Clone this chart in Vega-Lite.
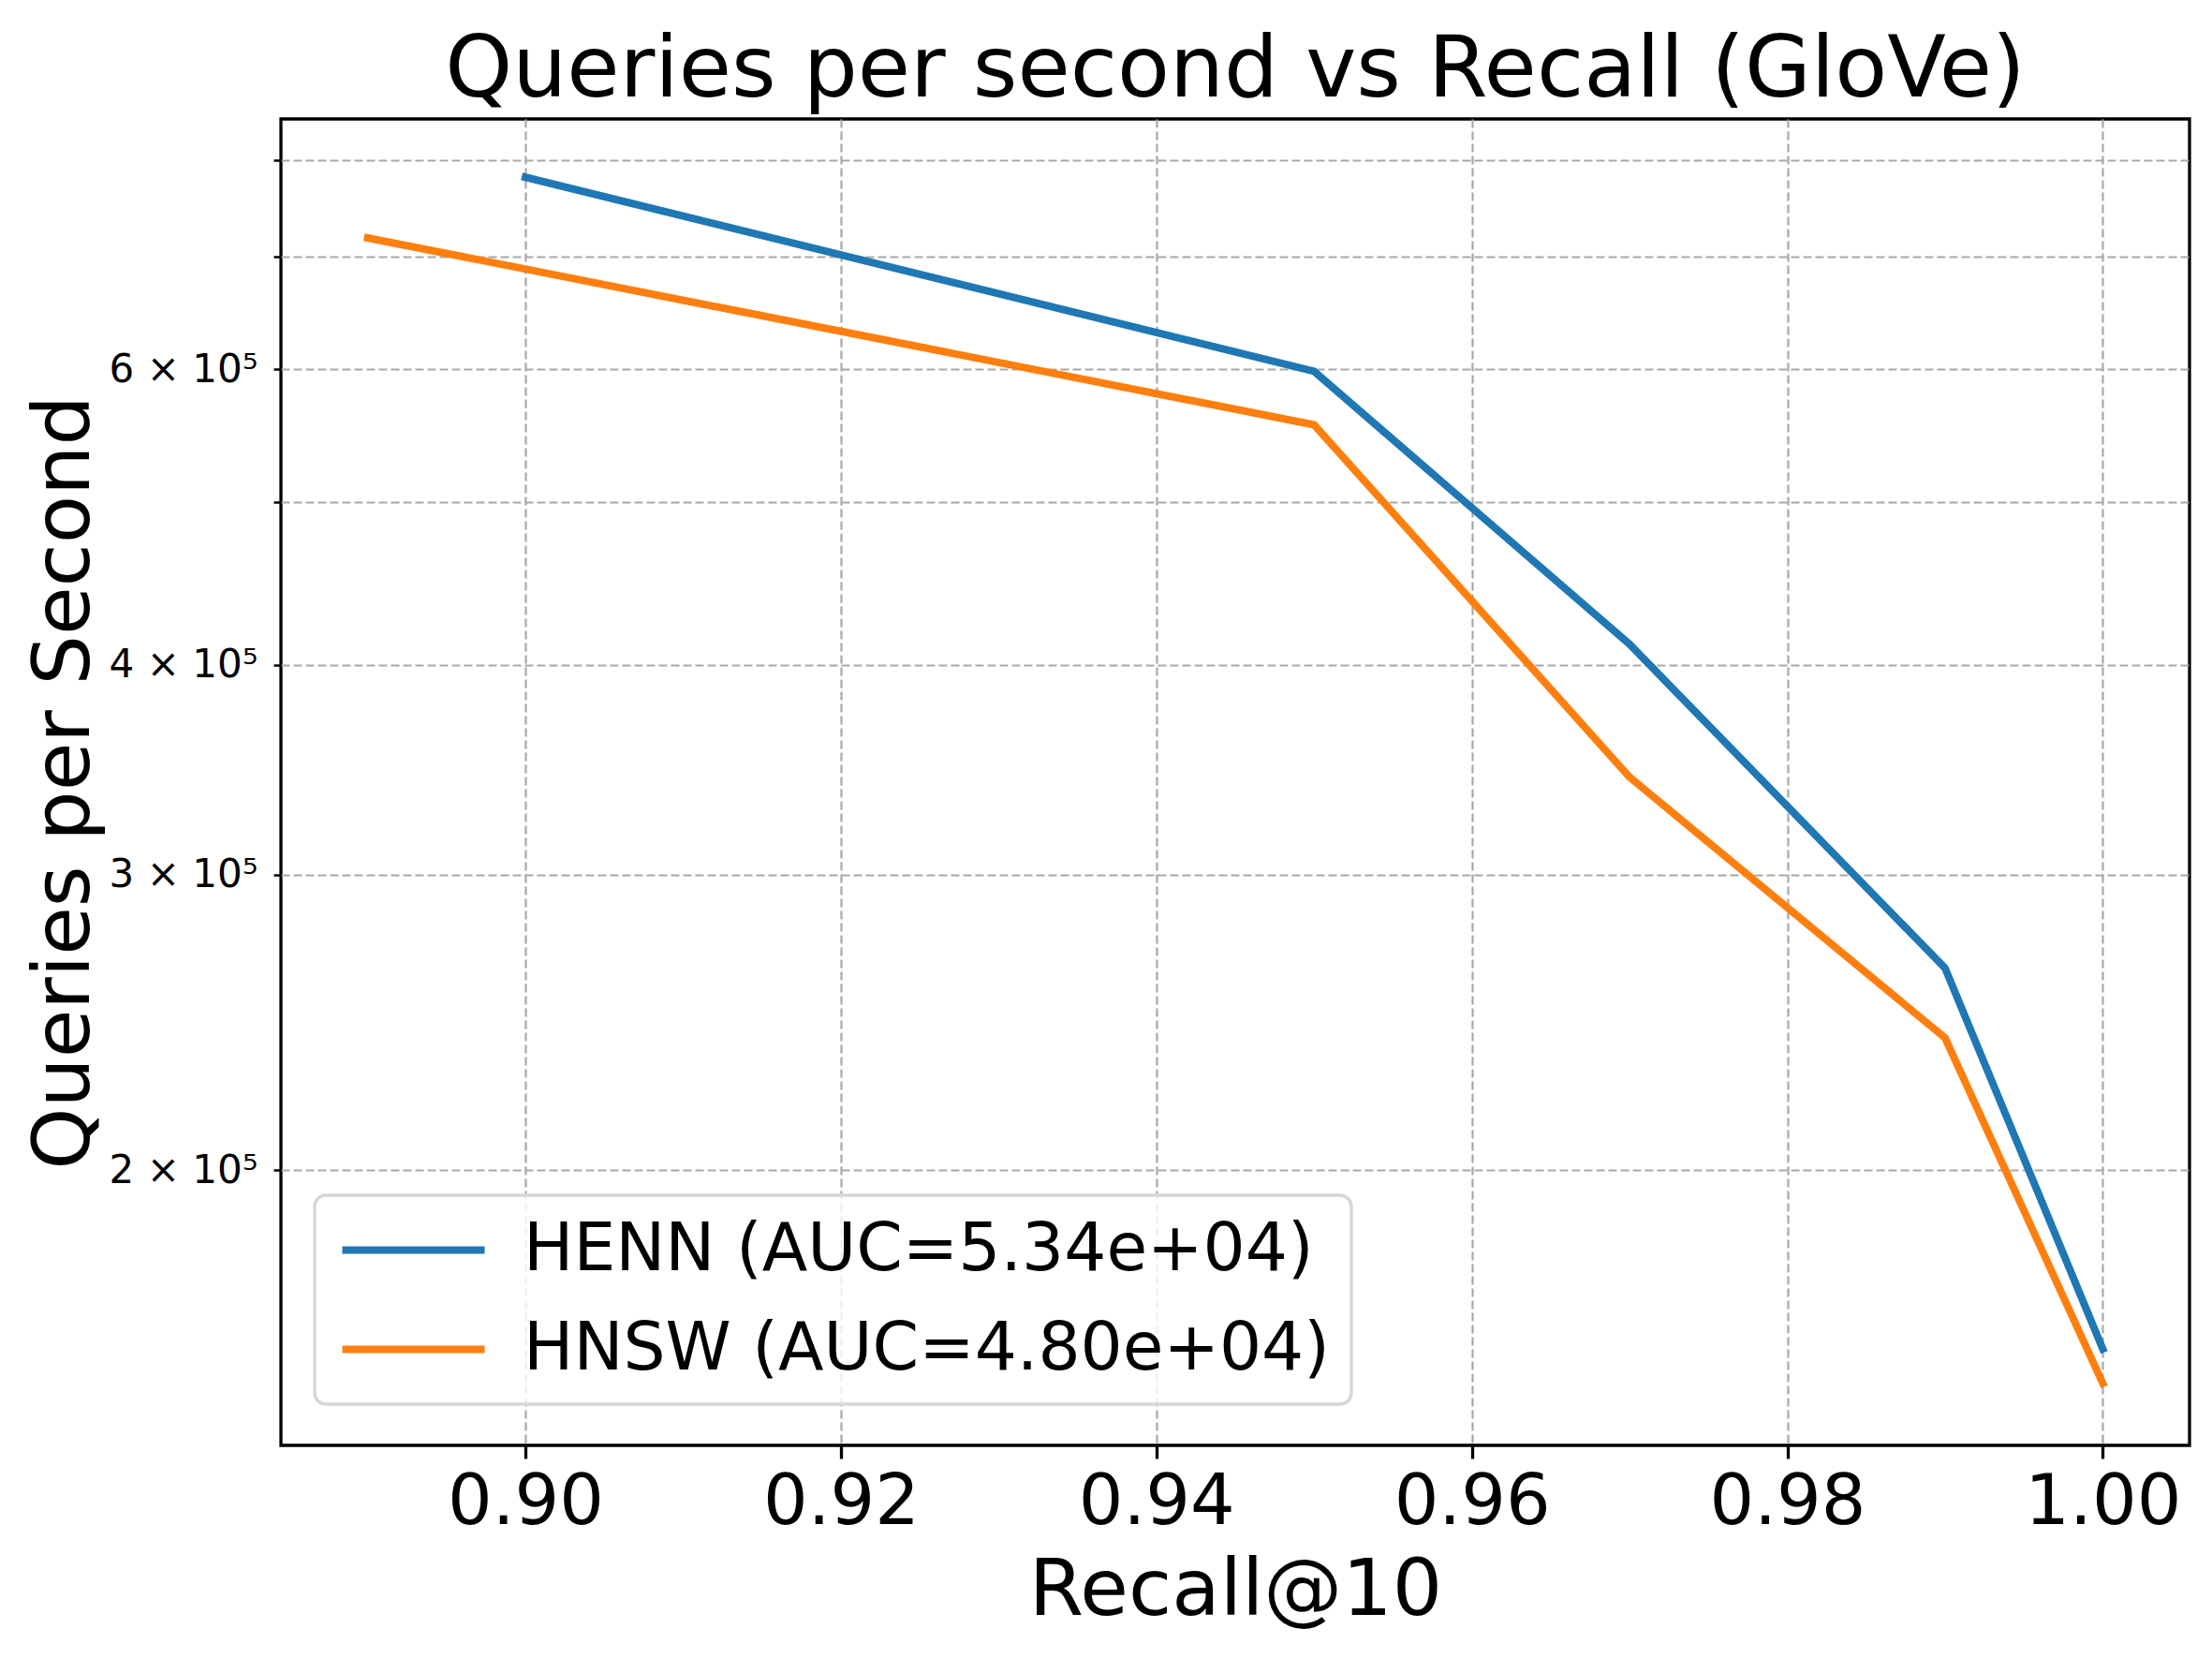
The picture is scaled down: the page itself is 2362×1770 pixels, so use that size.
{
  "$schema": "https://vega.github.io/schema/vega-lite/v6.json",
  "width": 2038,
  "height": 1416,
  "autosize": {"type": "none"},
  "padding": {"left": 300, "top": 127, "right": 24, "bottom": 227},
  "background": "white",
  "title": {
    "text": "Queries per second vs Recall (GloVe)",
    "font": "DejaVu Sans",
    "fontSize": 91.5,
    "fontWeight": "normal",
    "color": "black",
    "anchor": "middle",
    "baseline": "top",
    "offset": 5
  },
  "config": {
    "font": "DejaVu Sans",
    "view": {"stroke": "black", "strokeWidth": 3.3}
  },
  "data": {
    "values": [
      {"series": "HENN (AUC=5.34e+04)", "recall": 0.90, "qps": 781000},
      {"series": "HENN (AUC=5.34e+04)", "recall": 0.95, "qps": 598400},
      {"series": "HENN (AUC=5.34e+04)", "recall": 0.97, "qps": 411500},
      {"series": "HENN (AUC=5.34e+04)", "recall": 0.99, "qps": 263900},
      {"series": "HENN (AUC=5.34e+04)", "recall": 1.00, "qps": 156500},
      {"series": "HNSW (AUC=4.80e+04)", "recall": 0.89, "qps": 718600},
      {"series": "HNSW (AUC=4.80e+04)", "recall": 0.95, "qps": 556100},
      {"series": "HNSW (AUC=4.80e+04)", "recall": 0.97, "qps": 342900},
      {"series": "HNSW (AUC=4.80e+04)", "recall": 0.99, "qps": 239800},
      {"series": "HNSW (AUC=4.80e+04)", "recall": 1.00, "qps": 149300}
    ]
  },
  "mark": {"type": "line", "strokeWidth": 8, "strokeCap": "square"},
  "encoding": {
    "x": {
      "field": "recall",
      "type": "quantitative",
      "scale": {"domain": [0.8845, 1.0055], "nice": false, "zero": false},
      "axis": {
        "title": "Recall@10",
        "values": [0.90, 0.92, 0.94, 0.96, 0.98, 1.00],
        "format": ".2f",
        "domain": false,
        "labelFont": "DejaVu Sans",
        "labelFontSize": 75,
        "labelColor": "black",
        "labelBaseline": "alphabetic",
        "labelPadding": 69,
        "labelFlush": false,
        "labelOverlap": false,
        "tickSize": 14,
        "tickWidth": 3.3,
        "tickColor": "black",
        "grid": true,
        "gridColor": "#a8a8a8",
        "gridDash": [9, 4],
        "gridWidth": 2.2,
        "titleFont": "DejaVu Sans",
        "titleFontSize": 84,
        "titleFontWeight": "normal",
        "titleColor": "black",
        "titleBaseline": "alphabetic",
        "titleY": 180
      }
    },
    "y": {
      "field": "qps",
      "type": "quantitative",
      "scale": {"type": "log", "domain": [137100, 846000], "nice": false},
      "axis": {
        "title": "Queries per Second",
        "values": [200000, 300000, 400000, 500000, 600000, 700000, 800000],
        "labelExpr": "indexof([2, 3, 4, 6], round(datum.value / 100000)) >= 0 ? round(datum.value / 100000) + ' × 10⁵' : ''",
        "domain": false,
        "labelFont": "DejaVu Sans",
        "labelFontSize": 42,
        "labelColor": "black",
        "labelPadding": 17,
        "labelOverlap": false,
        "tickSize": 8,
        "tickWidth": 2.5,
        "tickColor": "black",
        "grid": true,
        "gridColor": "#a8a8a8",
        "gridDash": [9, 4],
        "gridWidth": 2.2,
        "titleFont": "DejaVu Sans",
        "titleFontSize": 84,
        "titleFontWeight": "normal",
        "titleColor": "black",
        "titleBaseline": "alphabetic",
        "titleAngle": -90,
        "titleAlign": "center",
        "titleX": -206,
        "titleY": 708
      }
    },
    "color": {
      "field": "series",
      "type": "nominal",
      "scale": {
        "domain": ["HENN (AUC=5.34e+04)", "HNSW (AUC=4.80e+04)"],
        "range": ["#1f77b4", "#ff7f0e"]
      },
      "legend": {
        "title": null,
        "orient": "none",
        "legendX": 36,
        "legendY": 1149,
        "symbolType": "M-1.16,0H4.92",
        "symbolSize": 2500,
        "symbolStrokeWidth": 8,
        "labelFont": "DejaVu Sans",
        "labelFontSize": 71,
        "labelColor": "black",
        "labelLimit": 2000,
        "labelOffset": 129,
        "padding": 23,
        "rowPadding": 34,
        "fillColor": "rgba(255,255,255,0.8)",
        "strokeColor": "#d6d6d6",
        "cornerRadius": 12,
        "encode": {
          "legend": {"update": {"strokeWidth": {"value": 3.3}}}
        }
      }
    }
  }
}
